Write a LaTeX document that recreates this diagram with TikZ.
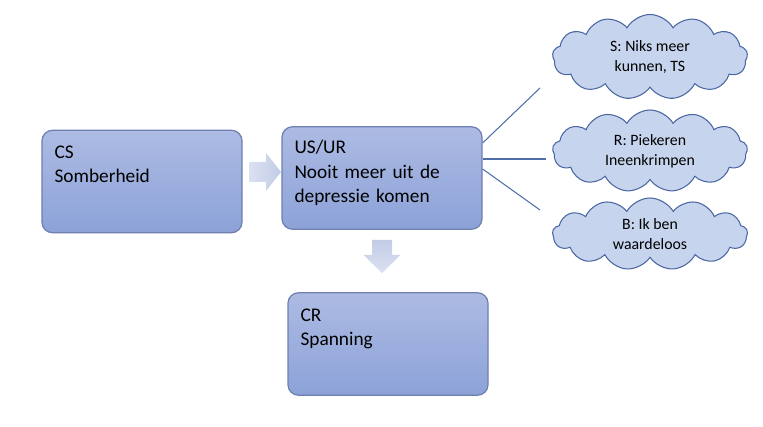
\documentclass[tikz,border=0pt]{standalone}
\usepackage{fontspec}
\setmainfont{Carlito}
\usepackage{tikz}
\usetikzlibrary{shapes.symbols,positioning}

\definecolor{blokTop}{HTML}{ADBBE3}
\definecolor{blokBot}{HTML}{8CA2D8}
\definecolor{blokRand}{HTML}{6F80B0}
\definecolor{wolkVul}{HTML}{C7D4EE}
\definecolor{wolkRand}{HTML}{4A67A3}
\definecolor{pijlLicht}{HTML}{DCE1F1}
\definecolor{pijlDonker}{HTML}{C2CCE6}
\definecolor{lijn}{HTML}{4F6FA8}

\begin{document}
\begin{tikzpicture}[
  every node/.style={font=\fontsize{11}{13.9}\selectfont},
  blok/.style={draw=blokRand, line width=0.7pt, rounded corners=6pt, top color=blokTop, bottom color=blokBot, minimum width=4cm, minimum height=2.05cm, text width=3.5cm, align=left, inner sep=0pt},
  wolk/.style={cloud, cloud puffs=13, cloud puff arc=120, aspect=2.4, draw=wolkRand, line width=0.6pt, fill=wolkVul, minimum width=3.9cm, align=center, inner sep=0pt, font=\fontsize{9}{11.2}\selectfont},
  pijlH/.style={left color=pijlLicht, right color=pijlDonker},
  pijlV/.style={top color=pijlDonker, bottom color=pijlLicht},
  tak/.style={draw=lijn, line width=0.6pt}
]
  \useasboundingbox (0,0) rectangle (15.26,8.54);

  \node[blok, text depth=1.17cm] (cs) at (2.84,4.91) {CS\\Somberheid};
  \node[blok, text depth=1.24cm] (usur) at (7.64,4.98) {US/UR\\Nooit meer uit de\\depressie komen};
  \node[blok, text depth=1.17cm] (cr) at (7.76,1.66) {CR\\Spanning};

  \shade[pijlH] (4.98,5.30) -- (5.32,5.30) -- (5.32,5.48) -- (5.62,5.10) -- (5.32,4.72) -- (5.32,4.90) -- (4.98,4.90) -- cycle;
  \shade[pijlV] (7.44,3.74) -- (7.84,3.74) -- (7.84,3.44) -- (8.01,3.44) -- (7.64,3.08) -- (7.27,3.44) -- (7.44,3.44) -- cycle;

  \node[wolk, minimum height=1.7cm] (wolkS) at (13.0,7.40) {S: Niks meer\\kunnen, TS};
  \node[wolk, minimum height=1.64cm] (wolkR) at (13.0,5.52) {R: Piekeren\\Ineenkrimpen};
  \node[wolk, minimum height=1.44cm] (wolkB) at (13.0,3.86) {B: Ik ben\\waardeloos};

  \coordinate (eindS) at (10.80,6.78);
  \coordinate (eindR) at (10.92,5.36);
  \coordinate (eindB) at (10.80,4.34);

  \draw[tak] ([yshift=0.70cm]usur.east) -- (eindS);
  \draw[tak] ([yshift=0.38cm]usur.east) -- (eindR);
  \draw[tak] ([yshift=0.18cm]usur.east) -- (eindB);
\end{tikzpicture}
\end{document}
